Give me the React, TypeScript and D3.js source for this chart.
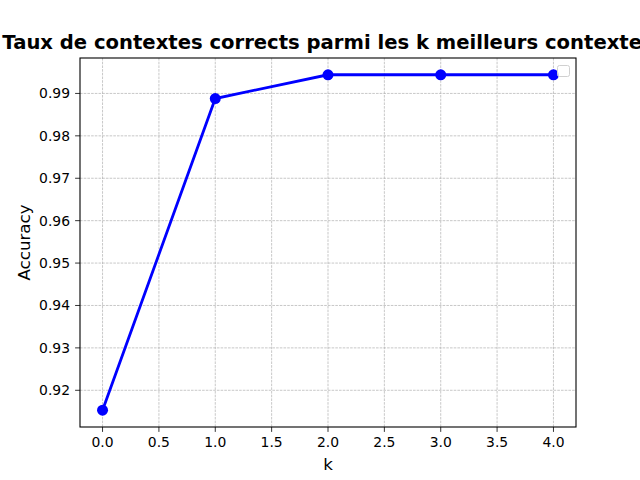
import * as d3 from 'd3';
import React from 'react';

// values
const kValues = [0, 1, 2, 3, 4];
const accuracy = [0.9153, 0.9888, 0.9944, 0.9944, 0.9944];
const xTicks = [0, 0.5, 1, 1.5, 2, 2.5, 3, 3.5, 4];
const yTicks = [0.92, 0.93, 0.94, 0.95, 0.96, 0.97, 0.98, 0.99];

const W = 640;
const H = 480;
const margin = { top: 58, right: 64, bottom: 53, left: 80 };
const font = 'DejaVu Sans, sans-serif';

const App: React.FC = () => {
  const x = d3
    .scaleLinear()
    .domain([-0.2, 4.2])
    .range([margin.left, W - margin.right]);
  const yPad = (d3.max(accuracy)! - d3.min(accuracy)!) * 0.05;
  const y = d3
    .scaleLinear()
    .domain([d3.min(accuracy)! - yPad, d3.max(accuracy)! + yPad])
    .range([H - margin.bottom, margin.top]);

  const line = d3
    .line<number>()
    .x((_d, i) => x(kValues[i]))
    .y((d) => y(d));

  const left = margin.left;
  const right = W - margin.right;
  const top = margin.top;
  const bottom = H - margin.bottom;

  return (
    <svg
      width={W}
      height={H}
      style={{ position: 'absolute', left: 0, top: 0, background: '#fff' }}
      fontFamily={font}
    >
      {/* grid */}
      {xTicks.map((t) => (
        <line
          key={`gx${t}`}
          x1={x(t)}
          x2={x(t)}
          y1={top}
          y2={bottom}
          stroke="#b0b0b0"
          strokeWidth={0.7}
          strokeDasharray="2.6,1.1"
        />
      ))}
      {yTicks.map((t) => (
        <line
          key={`gy${t}`}
          x1={left}
          x2={right}
          y1={y(t)}
          y2={y(t)}
          stroke="#b0b0b0"
          strokeWidth={0.7}
          strokeDasharray="2.6,1.1"
        />
      ))}

      {/* data */}
      <path d={line(accuracy) ?? ''} fill="none" stroke="#0000ff" strokeWidth={2.8} />
      {accuracy.map((d, i) => (
        <circle key={i} cx={x(kValues[i])} cy={y(d)} r={5.5} fill="#0000ff" />
      ))}

      {/* frame */}
      <rect
        x={left}
        y={top}
        width={right - left}
        height={bottom - top}
        fill="none"
        stroke="#000"
        strokeWidth={1.1}
      />

      {/* x ticks */}
      {xTicks.map((t) => (
        <g key={`tx${t}`} transform={`translate(${x(t)},${bottom})`}>
          <line y2={4.9} stroke="#000" strokeWidth={0.8} />
          <text y={20} textAnchor="middle" fontSize={13.9} fill="#000">
            {t.toFixed(1)}
          </text>
        </g>
      ))}
      {/* y ticks */}
      {yTicks.map((t) => (
        <g key={`ty${t}`} transform={`translate(${left},${y(t)})`}>
          <line x2={-4.9} stroke="#000" strokeWidth={0.8} />
          <text x={-10} dy="0.35em" textAnchor="end" fontSize={13.9} fill="#000">
            {t.toFixed(2)}
          </text>
        </g>
      ))}

      {/* labels */}
      <text x={(left + right) / 2} y={470} textAnchor="middle" fontSize={16.7}>
        k
      </text>
      <text
        transform={`translate(30,${(top + bottom) / 2}) rotate(-90)`}
        textAnchor="middle"
        fontSize={16.7}
      >
        Accuracy
      </text>
      <text
        x={(left + right) / 2}
        y={49}
        textAnchor="middle"
        fontSize={19.6}
        fontWeight="bold"
      >
        Taux de contextes corrects parmi les k meilleurs contextes
      </text>

      {/* empty legend */}
      <rect
        x={557.5}
        y={65.5}
        width={12}
        height={11}
        rx={2}
        fill="#fff"
        fillOpacity={0.8}
        stroke="#d0d0d0"
        strokeWidth={1}
      />
    </svg>
  );
};

export default App;
